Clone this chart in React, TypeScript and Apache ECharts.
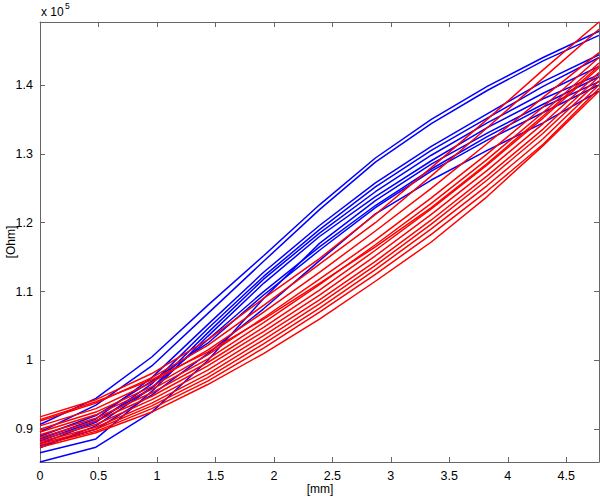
import React, { useEffect, useRef } from 'react';
import * as echarts from 'echarts';

// x positions of the measurements [mm]
const xPositions = [0, 0.478, 0.956, 1.434, 1.912, 2.39, 2.868, 3.346, 3.824, 4.302, 4.78];

const xTicks = [0, 0.5, 1, 1.5, 2, 2.5, 3, 3.5, 4, 4.5];
const yTicks = [0.9, 1, 1.1, 1.2, 1.3, 1.4];

// values in units of 1e5 Ohm
const blue1 = [0.907, 0.945, 1.005, 1.080, 1.152, 1.226, 1.294, 1.350, 1.398, 1.440, 1.478];
const blue2 = [0.896, 0.935, 0.992, 1.068, 1.144, 1.219, 1.288, 1.344, 1.392, 1.435, 1.472];
const blue3 = [0.886, 0.915, 0.975, 1.052, 1.128, 1.196, 1.258, 1.311, 1.358, 1.405, 1.444];
const blue4 = [0.879, 0.910, 0.966, 1.046, 1.122, 1.190, 1.252, 1.305, 1.352, 1.398, 1.440];
const blue5 = [0.873, 0.905, 0.960, 1.040, 1.118, 1.185, 1.245, 1.298, 1.345, 1.388, 1.427];
const blue6 = [0.866, 0.886, 0.955, 1.035, 1.112, 1.180, 1.238, 1.290, 1.338, 1.380, 1.415];
const blue7 = [0.8525, 0.874, 0.925, 1.000, 1.090, 1.170, 1.232, 1.285, 1.330, 1.372, 1.412];
const blue8 = [0.883, 0.912, 0.960, 1.030, 1.100, 1.165, 1.225, 1.278, 1.325, 1.368, 1.405];
const blue9 = [0.890, 0.920, 0.970, 1.025, 1.095, 1.160, 1.222, 1.275, 1.320, 1.360, 1.400];
const blue10 = [0.876, 0.900, 0.950, 1.010, 1.075, 1.145, 1.213, 1.262, 1.305, 1.345, 1.391];

const red1 = [0.918, 0.943, 0.981, 1.030, 1.090, 1.148, 1.212, 1.280, 1.350, 1.422, 1.4915];
const red2 = [0.912, 0.938, 0.975, 1.022, 1.080, 1.140, 1.200, 1.268, 1.338, 1.410, 1.481];
const red3 = [0.905, 0.930, 0.968, 1.015, 1.070, 1.128, 1.188, 1.250, 1.315, 1.382, 1.447];
const red4 = [0.900, 0.925, 0.962, 1.008, 1.062, 1.118, 1.175, 1.236, 1.300, 1.368, 1.440];
const red5 = [0.896, 0.921, 0.958, 1.002, 1.055, 1.110, 1.168, 1.228, 1.292, 1.360, 1.432];
const red6 = [0.892, 0.916, 0.953, 0.997, 1.048, 1.102, 1.160, 1.220, 1.284, 1.352, 1.425];
const red7 = [0.888, 0.912, 0.948, 0.992, 1.042, 1.095, 1.152, 1.212, 1.276, 1.344, 1.418];
const red8 = [0.885, 0.907, 0.943, 0.986, 1.036, 1.088, 1.144, 1.204, 1.268, 1.336, 1.412];
const red9 = [0.882, 0.903, 0.938, 0.980, 1.030, 1.082, 1.138, 1.198, 1.262, 1.330, 1.406];
const red10 = [0.879, 0.900, 0.934, 0.975, 1.024, 1.076, 1.132, 1.191, 1.254, 1.322, 1.400];
const red11 = [0.877, 0.897, 0.930, 0.970, 1.018, 1.070, 1.125, 1.183, 1.246, 1.314, 1.395];
const red12 = [0.874, 0.895, 0.925, 0.965, 1.010, 1.060, 1.115, 1.172, 1.238, 1.312, 1.391];
const red13 = [0.914, 0.940, 0.972, 1.012, 1.060, 1.112, 1.165, 1.222, 1.286, 1.355, 1.428];

const blueLines = [blue1, blue2, blue3, blue4, blue5, blue6, blue7, blue8, blue9, blue10];
const redLines = [red1, red2, red3, red4, red5, red6, red7, red8, red9, red10, red11, red12, red13];

const X_MIN = 0;
const X_MAX = 4.78;
const Y_MIN = 0.8525;
const Y_MAX = 1.4915;

export default function App() {
  const ref = useRef<HTMLDivElement>(null);

  useEffect(() => {
    if (!ref.current) return;
    const chart = echarts.init(ref.current, null, { renderer: 'svg' });
    const font = '"Liberation Sans", Arial, Helvetica, sans-serif';
    const axisColor = '#666666';

    const mk = (vals: number[], color: string, i: number) => ({
      type: 'line',
      name: color + i,
      data: vals.map((v, k) => [xPositions[k], v]),
      showSymbol: false,
      symbol: 'none',
      silent: true,
      xAxisIndex: 0,
      yAxisIndex: 0,
      lineStyle: { color, width: 1.5 },
      itemStyle: { color },
    });

    const series = [
      ...blueLines.map((v, i) => mk(v, '#0000ff', i)),
      ...redLines.map((v, i) => mk(v, '#ff0000', i)),
    ];

    const baseLine = { show: true, onZero: false, lineStyle: { color: axisColor, width: 1 } };

    chart.setOption({
      animation: false,
      backgroundColor: '#ffffff',
      grid: { left: 40, right: 1, top: 22, bottom: 36, containLabel: false, outerBoundsMode: 'none' },
      xAxis: [
        {
          type: 'value',
          min: X_MIN,
          max: X_MAX,
          position: 'bottom',
          axisLine: baseLine,
          axisTick: { show: true, inside: true, length: 5, customValues: xTicks, lineStyle: { color: axisColor } },
          axisLabel: { customValues: xTicks, color: '#000', fontSize: 12.5, fontFamily: font, margin: 7 },
          splitLine: { show: false },
        },
        {
          type: 'value',
          min: X_MIN,
          max: X_MAX,
          position: 'top',
          axisLine: baseLine,
          axisTick: { show: true, inside: true, length: 5, customValues: xTicks, lineStyle: { color: axisColor } },
          axisLabel: { show: false },
          splitLine: { show: false },
        },
      ],
      yAxis: [
        {
          type: 'value',
          min: Y_MIN,
          max: Y_MAX,
          position: 'left',
          axisLine: baseLine,
          axisTick: { show: true, inside: true, length: 5, customValues: yTicks, lineStyle: { color: axisColor } },
          axisLabel: { customValues: yTicks, color: '#000', fontSize: 12.5, fontFamily: font, margin: 7 },
          splitLine: { show: false },
        },
        {
          type: 'value',
          min: Y_MIN,
          max: Y_MAX,
          position: 'right',
          axisLine: baseLine,
          axisTick: { show: true, inside: true, length: 5, customValues: yTicks, lineStyle: { color: axisColor } },
          axisLabel: { show: false },
          splitLine: { show: false },
        },
      ],
      graphic: [
        {
          type: 'text',
          left: 41,
          top: 6,
          style: { text: 'x 10', fill: '#000', font: '12px ' + font },
        },
        {
          type: 'text',
          left: 65,
          top: 1,
          style: { text: '5', fill: '#000', font: '8.5px ' + font },
        },
        {
          type: 'text',
          x: 320,
          y: 489,
          style: { text: '[mm]', fill: '#000', font: '12px ' + font, align: 'center', verticalAlign: 'middle' },
        },
        {
          type: 'text',
          x: 11,
          y: 242,
          rotation: Math.PI / 2,
          style: { text: '[Ohm]', fill: '#000', font: '12px ' + font, align: 'center', verticalAlign: 'middle' },
        },
      ],
      series,
    });

    return () => chart.dispose();
  }, []);

  return (
    <div
      ref={ref}
      style={{ position: 'fixed', left: 0, top: 0, width: 600, height: 498 }}
    />
  );
}
